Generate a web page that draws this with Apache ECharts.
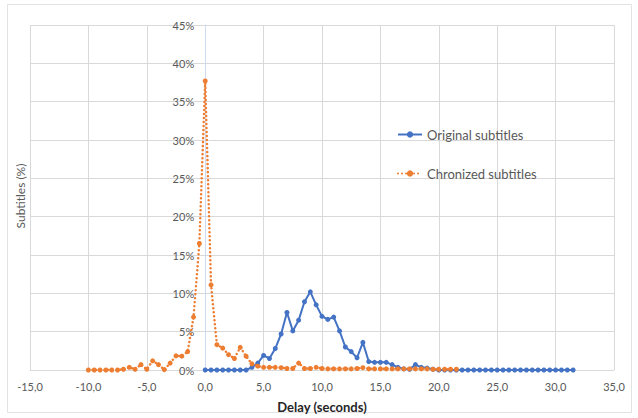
<!DOCTYPE html>
<html>
<head>
<meta charset="utf-8">
<style>
  html, body { margin: 0; padding: 0; background: #ffffff; }
  #chart { width: 638px; height: 418px; }
</style>
<script src="https://cdn.jsdelivr.net/npm/echarts@6/dist/echarts.min.js"></script>
</head>
<body>
<div id="chart"></div>
<script>
// Delay bins (seconds) for each series
const originalDelays = [
  0, 0.5, 1, 1.5, 2, 2.5, 3, 3.5, 4, 4.5, 5, 5.5, 6, 6.5, 7, 7.5,
  8, 8.5, 9, 9.5, 10, 10.5, 11, 11.5, 12, 12.5, 13, 13.5, 14, 14.5, 15, 15.5,
  16, 16.5, 17, 17.5, 18, 18.5, 19, 19.5, 20, 20.5, 21, 21.5, 22, 22.5, 23, 23.5,
  24, 24.5, 25, 25.5, 26, 26.5, 27, 27.5, 28, 28.5, 29, 29.5, 30, 30.5, 31, 31.5
];
// Share of subtitles (%) per delay bin, original timing
const originalShare = [
  0, 0, 0, 0, 0, 0, 0, 0, 0.35, 0.9, 1.9, 1.5, 2.8, 4.7, 7.5, 5.1,
  6.5, 8.9, 10.2, 8.5, 7.0, 6.6, 6.9, 5.1, 3.0, 2.4, 1.6, 3.6, 1.1, 1.0, 1.0, 1.0,
  0.7, 0.35, 0.15, 0.1, 0.7, 0.35, 0.25, 0.1, 0, 0, 0, 0, 0, 0, 0, 0,
  0, 0, 0, 0, 0, 0, 0, 0, 0, 0, 0, 0, 0, 0, 0, 0
];

const chronizedDelays = [
  -10, -9.5, -9, -8.5, -8, -7.5, -7, -6.5, -6, -5.5, -5, -4.5, -4, -3.5, -3, -2.5,
  -2, -1.5, -1, -0.5, 0, 0.5, 1, 1.5, 2, 2.5, 3, 3.5, 4, 4.5, 5, 5.5,
  6, 6.5, 7, 7.5, 8, 8.5, 9, 9.5, 10, 10.5, 11, 11.5, 12, 12.5, 13, 13.5,
  14, 14.5, 15, 15.5, 16, 16.5, 17, 17.5, 18, 18.5, 19, 19.5, 20, 20.5, 21, 21.5
];
// Share of subtitles (%) per delay bin, after synchronisation
const chronizedShare = [
  0, 0, 0, 0, 0, 0, 0.1, 0.35, 0.1, 0.7, 0.1, 1.2, 0.7, 0.05, 0.9, 1.85,
  1.8, 2.4, 6.9, 16.5, 37.7, 11.1, 3.3, 2.85, 2.0, 1.5, 2.95, 1.8, 0.8, 0.5, 0.35, 0.35,
  0.35, 0.3, 0.2, 0.2, 0.9, 0.2, 0.2, 0.35, 0.2, 0.15, 0.15, 0.15, 0.15, 0.15, 0.2, 0.3,
  0.15, 0.15, 0.15, 0.15, 0.15, 0.15, 0.15, 0.15, 0.15, 0.15, 0.15, 0.1, 0.1, 0.1, 0.1, 0.1
];

const seriesNames = ['Original subtitles', 'Chronized subtitles'];
const xAxisTitle = 'Delay (seconds)';
const yAxisTitle = 'Subtitles (%)';

const pairs = (xs, ys) => xs.map((x, i) => [x, ys[i]]);

const TEXT = '#595959';
const GRID = '#d9d9d9';
const FONT = 'Lato, "Liberation Sans", sans-serif';

// plot box and x range, so the value axis can sit on delay = 0
const PLOT = { left: 30, top: 25, width: 584, height: 347 };
const X_MIN = -15, X_MAX = 35;
const zeroOffset = PLOT.width * (0 - X_MIN) / (X_MAX - X_MIN);

const chart = echarts.init(document.getElementById('chart'), null, { renderer: 'svg' });

chart.setOption({
  animation: false,
  backgroundColor: '#ffffff',
  textStyle: { fontFamily: FONT },
  grid: Object.assign({ containLabel: false }, PLOT),
  legend: {
    orient: 'vertical',
    left: 392,
    top: 123,
    itemWidth: 24,
    itemHeight: 8,
    itemGap: 26,
    textStyle: { color: TEXT, fontSize: 13, fontFamily: FONT },
    data: seriesNames
  },
  xAxis: {
    type: 'value',
    min: X_MIN,
    max: X_MAX,
    interval: 5,
    name: xAxisTitle,
    nameLocation: 'middle',
    nameGap: 30,
    nameTextStyle: { color: '#262626', fontSize: 13, fontWeight: 'bold', fontFamily: FONT },
    axisLine: { show: true, onZero: false, lineStyle: { color: GRID } },
    axisTick: { show: false },
    axisLabel: {
      color: TEXT,
      fontSize: 11,
      margin: 11,
      formatter: v => v.toFixed(1).replace('.', ',')
    },
    splitLine: { show: true, lineStyle: { color: GRID, width: 1 } }
  },
  yAxis: {
    type: 'value',
    min: 0,
    max: 45,
    interval: 5,
    position: 'left',
    offset: -zeroOffset,
    axisLine: { show: true, onZero: false, lineStyle: { color: '#cddaf0', width: 1 } },
    axisTick: { show: false },
    axisLabel: { color: TEXT, fontSize: 11, margin: 11, formatter: '{value}%' },
    splitLine: { show: true, lineStyle: { color: GRID, width: 1 } }
  },
  graphic: [
    {
      type: 'rect',
      shape: { x: 7.5, y: 4.5, width: 624, height: 408 },
      style: { fill: 'none', stroke: '#e3e3e3', lineWidth: 1 },
      silent: true,
      z: -10
    },
    {
      type: 'text',
      x: 20,
      y: 196,
      rotation: Math.PI / 2,
      style: {
        text: yAxisTitle,
        fill: TEXT,
        font: '12px ' + FONT,
        align: 'center',
        verticalAlign: 'middle'
      }
    }
  ],
  series: [
    {
      name: seriesNames[0],
      type: 'line',
      data: pairs(originalDelays, originalShare),
      symbol: 'circle',
      symbolSize: 5,
      showSymbol: true,
      color: '#4472c4',
      lineStyle: { color: '#4472c4', width: 2 },
      itemStyle: { color: '#4472c4' },
      z: 2
    },
    {
      name: seriesNames[1],
      type: 'line',
      data: pairs(chronizedDelays, chronizedShare),
      symbol: 'circle',
      symbolSize: 5,
      showSymbol: true,
      color: '#ed7d31',
      lineStyle: { color: '#ed7d31', width: 2.5, type: [0.01, 4], cap: 'round' },
      itemStyle: { color: '#ed7d31' },
      z: 3
    }
  ]
});
</script>
</body>
</html>
